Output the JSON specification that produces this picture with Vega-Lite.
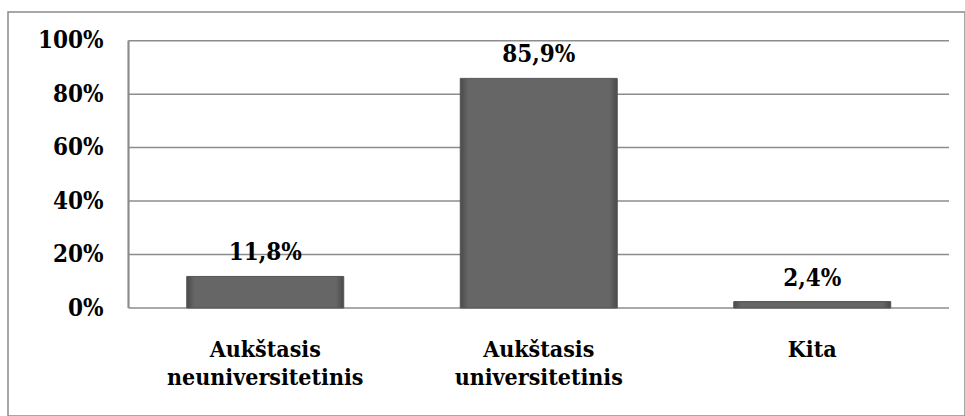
{
  "$schema": "https://vega.github.io/schema/vega-lite/v6.json",
  "width": 957,
  "height": 404,
  "autosize": {"type": "none"},
  "padding": {"left": 8, "top": 12, "right": 0, "bottom": 0},
  "background": "white",
  "config": {
    "view": {"stroke": "#8a8a8a", "strokeWidth": 1.5}
  },
  "data": {
    "values": [
      {"category": "Aukštasis neuniversitetinis", "value": 0.118, "label": "11,8%"},
      {"category": "Aukštasis universitetinis", "value": 0.859, "label": "85,9%"},
      {"category": "Kita", "value": 0.024, "label": "2,4%"}
    ]
  },
  "layer": [
    {
      "data": {"values": [{"t": 0}, {"t": 0.2}, {"t": 0.4}, {"t": 0.6}, {"t": 0.8}, {"t": 1.0}]},
      "mark": {"type": "rule", "color": "#8c8c8c", "strokeWidth": 1.5},
      "encoding": {
        "y": {
          "field": "t",
          "type": "quantitative",
          "scale": {"domain": [-0.40404, 1.10737], "nice": false, "zero": false},
          "axis": {
            "title": null,
            "orient": "left",
            "offset": -120.5,
            "values": [0, 0.2, 0.4, 0.6, 0.8, 1.0],
            "format": ".0%",
            "domain": false,
            "ticks": false,
            "grid": false,
            "labelPadding": 25.5,
            "labelFont": "DejaVu Serif Condensed",
            "labelFontSize": 24,
            "labelFontWeight": "bold",
            "labelColor": "#000000",
            "labelBaseline": "middle"
          }
        },
        "x": {"datum": "Aukštasis neuniversitetinis", "type": "nominal", "bandPosition": 0},
        "x2": {"datum": "Kita", "bandPosition": 1}
      }
    },
    {
      "mark": {"type": "rule", "color": "#8c8c8c", "strokeWidth": 1.5},
      "encoding": {
        "x": {"datum": "Aukštasis neuniversitetinis", "type": "nominal", "bandPosition": 0},
        "y": {"datum": 0, "type": "quantitative"},
        "y2": {"datum": 1}
      }
    },
    {
      "mark": {
        "type": "bar",
        "width": {"band": 0.574},
        "fill": {
          "gradient": "linear",
          "x1": 0, "x2": 1, "y1": 0, "y2": 0,
          "stops": [
            {"offset": 0, "color": "#4a4a4a"},
            {"offset": 0.05, "color": "#666666"},
            {"offset": 0.95, "color": "#666666"},
            {"offset": 1, "color": "#4a4a4a"}
          ]
        },
        "stroke": "#555555",
        "strokeWidth": 1
      },
      "encoding": {
        "x": {
          "field": "category",
          "type": "nominal",
          "sort": null,
          "scale": {
            "domain": ["Aukštasis neuniversitetinis", "Aukštasis universitetinis", "Kita"],
            "paddingInner": 0,
            "paddingOuter": 0.24954,
            "align": 0.8828
          },
          "axis": {
            "title": null,
            "orient": "bottom",
            "offset": -108,
            "domain": false,
            "ticks": false,
            "labelAngle": 0,
            "labelAlign": "center",
            "labelPadding": 30,
            "labelBaseline": "top",
            "labelFont": "DejaVu Serif Condensed",
            "labelFontSize": 23,
            "labelFontWeight": "bold",
            "labelColor": "#000000",
            "labelLineHeight": 28,
            "labelLimit": 0,
            "labelOverlap": false,
            "labelExpr": "split(datum.label, ' ')"
          }
        },
        "y": {"field": "value", "type": "quantitative"},
        "y2": {"datum": 0}
      }
    },
    {
      "mark": {"type": "text", "dy": -16, "baseline": "alphabetic", "align": "center", "font": "DejaVu Serif Condensed", "fontSize": 24, "fontWeight": "bold", "color": "#000000"},
      "encoding": {
        "x": {"field": "category", "type": "nominal", "sort": null},
        "y": {"field": "value", "type": "quantitative"},
        "text": {"field": "label"}
      }
    }
  ]
}
